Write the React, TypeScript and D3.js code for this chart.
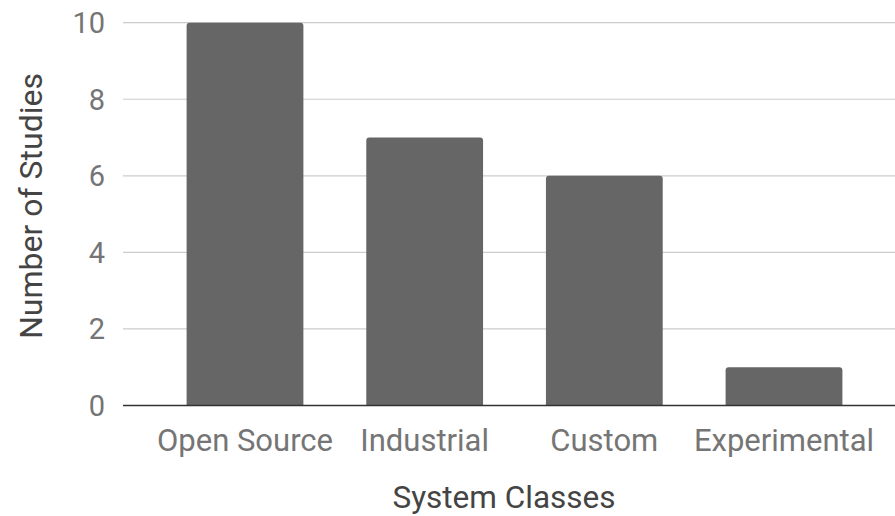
import React from "react";
import * as d3 from "d3";

const categories = ["Open Source", "Industrial", "Custom", "Experimental"];
const studies = [10, 7, 6, 1];
const yTicks = [0, 2, 4, 6, 8, 10];

const WIDTH = 895;
const HEIGHT = 516;
const FONT = "Roboto, 'Noto Sans', Arial, sans-serif";

const plot = { left: 123, right: 906, top: 22.7, bottom: 405.5 };

function topRoundedBar(x: number, y: number, w: number, h: number, r: number) {
  const rr = Math.min(r, h / 2, w / 2);
  return `M${x},${y + h}V${y + rr}Q${x},${y} ${x + rr},${y}H${x + w - rr}Q${x + w},${y} ${x + w},${y + rr}V${y + h}Z`;
}

export default function App() {
  const x = d3
    .scaleBand<string>()
    .domain(categories)
    .range([plot.left, plot.right])
    .paddingInner(0.35)
    .paddingOuter(0.354);

  const y = d3.scaleLinear().domain([0, 10]).range([plot.bottom, plot.top]);

  return (
    <svg
      width={WIDTH}
      height={HEIGHT}
      style={{ position: "absolute", left: 0, top: 0, background: "#fff" }}
      fontFamily={FONT}
    >
      {/* gridlines */}
      {yTicks
        .filter((t) => t !== 0)
        .map((t) => (
          <line
            key={`g${t}`}
            x1={plot.left}
            x2={WIDTH}
            y1={y(t)}
            y2={y(t)}
            stroke="#cccccc"
            strokeWidth={1.2}
          />
        ))}

      {/* y tick labels */}
      {yTicks.map((t) => (
        <text
          key={`t${t}`}
          x={105}
          y={y(t)}
          dy="0.36em"
          textAnchor="end"
          fontSize={29}
          fill="#757575"
        >
          {t}
        </text>
      ))}

      {/* bars */}
      {categories.map((c, i) => {
        const bx = x(c) as number;
        const by = y(studies[i]);
        return (
          <path
            key={c}
            d={topRoundedBar(bx, by, x.bandwidth(), y(0) - by, 3)}
            fill="#666666"
          />
        );
      })}

      {/* baseline */}
      <line
        x1={plot.left}
        x2={WIDTH}
        y1={y(0)}
        y2={y(0)}
        stroke="#333333"
        strokeWidth={1.6}
      />

      {/* x tick labels */}
      {categories.map((c) => (
        <text
          key={`x${c}`}
          x={(x(c) as number) + x.bandwidth() / 2}
          y={451}
          textAnchor="middle"
          fontSize={31}
          fill="#757575"
        >
          {c}
        </text>
      ))}

      {/* axis titles */}
      <text
        x={(plot.left + WIDTH) / 2 - 5}
        y={508}
        textAnchor="middle"
        fontSize={31.5}
        fill="#444444"
      >
        System Classes
      </text>
      <text
        transform={`translate(42,206) rotate(-90)`}
        textAnchor="middle"
        fontSize={32}
        fill="#444444"
      >
        Number of Studies
      </text>
    </svg>
  );
}
